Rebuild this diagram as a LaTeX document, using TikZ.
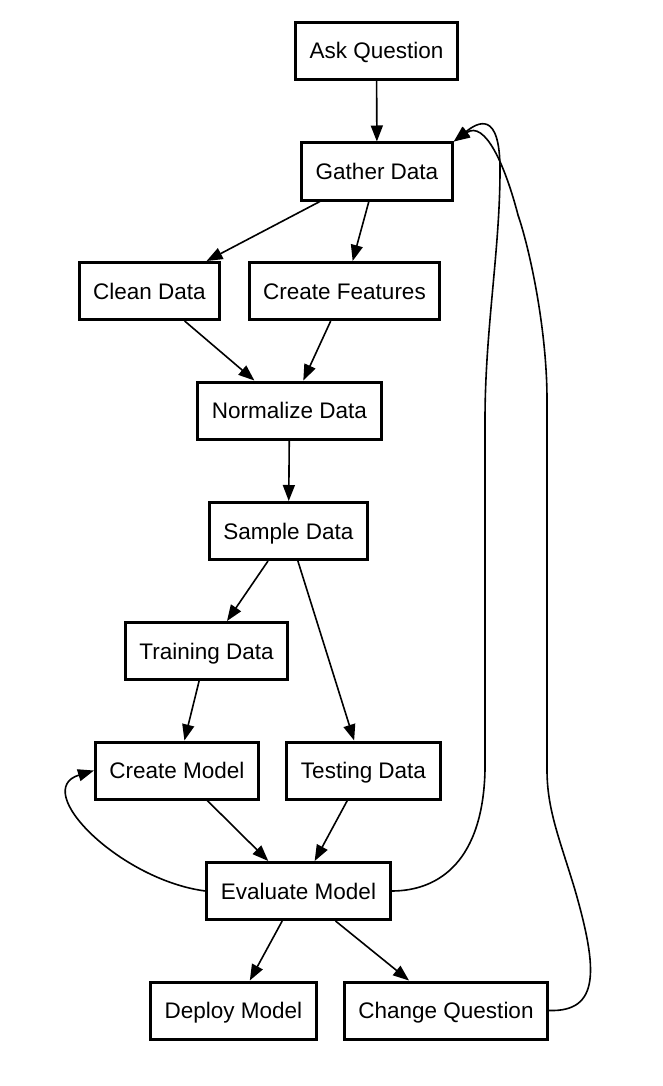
\documentclass[tikz,border=0pt]{standalone}
\usepackage{fontspec}
\setmainfont{Liberation Sans}
\usetikzlibrary{arrows.meta}
\begin{document}
\begin{tikzpicture}[x=1pt, y=-1pt,
    box/.style={draw, line width=3pt, inner xsep=14pt, minimum height=57pt,
      text height=16pt, text depth=0pt, font=\fontsize{22.5}{27}\selectfont},
    flow/.style={-{Triangle[length=16pt,width=12pt]}, line width=1.6pt}]
  \useasboundingbox (0,0) rectangle (662,1086);
  % data preparation
  \node[box] (ask)      at (376.5,51)    {Ask Question};
  \node[box] (gather)   at (377,171.5)   {Gather Data};
  \node[box] (clean)    at (149.5,291)   {Clean Data};
  \node[box] (features) at (344.5,291)   {Create Features};
  \node[box] (norm)     at (289.5,410.5) {Normalize Data};
  \node[box] (sample)   at (288.5,531)   {Sample Data};
  % modelling
  \node[box] (train)    at (206.5,651)   {Training Data};
  \node[box] (model)    at (177,770.5)   {Create Model};
  \node[box] (test)     at (363.5,770.5) {Testing Data};
  \node[box] (eval)     at (298.5,891)   {Evaluate Model};
  \node[box] (deploy)   at (233.5,1010.5){Deploy Model};
  \node[box] (change)   at (446,1010.5)  {Change Question};
  % straight edges
  \draw[flow] (ask) -- (gather);
  \draw[flow] (gather) -- (clean);
  \draw[flow] (gather) -- (features);
  \draw[flow] (clean) -- (norm);
  \draw[flow] (features) -- (norm);
  \draw[flow] (norm) -- (sample);
  \draw[flow] (sample) -- (train);
  \draw[flow] (sample) -- (test);
  \draw[flow] (train) -- (model);
  \draw[flow] (model) -- (eval);
  \draw[flow] (test) -- (eval);
  \draw[flow] (eval) -- (deploy);
  \draw[flow] (eval) -- (change);
  % feedback loops
  \draw[flow] (eval.west) .. controls (120,880) and (30,790) .. (model.west);
  \draw[flow] (eval.east) .. controls (440,891) and (483,860) .. (485,770)
    -- (485,420) .. controls (485,330) and (500,250) .. (500,170)
    .. controls (500,110) and (478,122) .. (gather.north east);
  \draw[flow] (change.east) .. controls (600,1012) and (598,970) .. (575,890)
    .. controls (560,840) and (547,810) .. (547,770)
    -- (547,400) .. controls (547,330) and (530,250) .. (518,215)
    .. controls (505,165) and (485,120) .. (gather.north east);
\end{tikzpicture}
\end{document}
